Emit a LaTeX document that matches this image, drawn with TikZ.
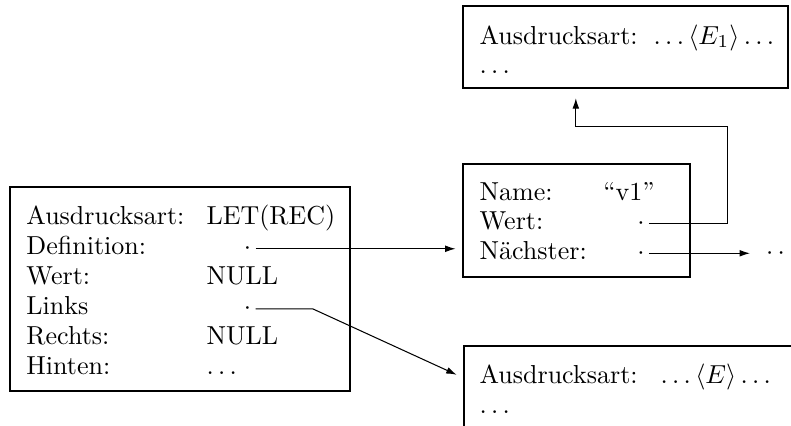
\documentclass[tikz,border=0pt]{standalone}
\usepackage{tikz}
\usetikzlibrary{arrows.meta}
\usetikzlibrary{positioning}

\tikzset{
  feld/.style={draw, thick, rectangle, inner sep=0pt},
  txt/.style={anchor=base west, inner sep=0pt},
  ptr/.style={anchor=base, inner sep=1.5pt},
  zeiger/.style={thin, -{Latex[length=4pt, width=2.6pt]}, shorten >=2.5pt},
}

\begin{document}
\begin{tikzpicture}
      \useasboundingbox (0, 0) rectangle (10.69, -5.745);
      \clip (0, 0) rectangle (10.69, -5.745);
      % die Kaestchen
      \node[feld, minimum width=4.59cm, minimum height=2.75cm] (let) at (2.43, -3.903) {};
      \node[feld, minimum width=4.39cm, minimum height=1.11cm] (eins) at (8.455, -0.635) {};
      \node[feld, minimum width=3.07cm, minimum height=1.53cm] (var) at (7.793, -2.981) {};
      \node[feld, minimum width=4.55cm, minimum height=1.27cm] (rumpf) at (8.54, -5.312) {};
      % LET-Knoten
      \node[txt] (lkind) at (0.351, -3.035) {Ausdrucksart:};
      \node[txt] (lkindw) at (2.785, -3.035) {LET(REC)};
      \node[txt] (ldef) at (0.351, -3.440) {Definition:};
      \node[ptr] (defdot) at (3.346, -3.440) {$\cdot$};
      \node[txt] (lwert) at (0.351, -3.846) {Wert:};
      \node[txt] (lwertw) at (2.785, -3.846) {NULL};
      \node[txt] (llinks) at (0.351, -4.251) {Links};
      \node[ptr] (linksdot) at (3.346, -4.251) {$\cdot$};
      \node[txt] (lrechts) at (0.351, -4.657) {Rechts:};
      \node[txt] (lrechtsw) at (2.785, -4.657) {NULL};
      \node[txt] (lhinten) at (0.351, -5.062) {Hinten:};
      \node[txt] (lhintenw) at (2.785, -5.062) {$\ldots$};
      % Variable
      \node[txt] (vname) at (6.475, -2.703) {Name:};
      \node[txt] (vnamew) at (8.147, -2.703) {``v1''};
      \node[txt] (vwert) at (6.475, -3.102) {Wert:};
      \node[ptr] (wertdot) at (8.661, -3.102) {$\cdot$};
      \node[txt] (vnext) at (6.475, -3.501) {N\"achster:};
      \node[ptr] (naechdot) at (8.661, -3.501) {$\cdot$};
      \node[txt] (weiter) at (10.346, -3.501) {$\cdots$};
      % E1 oben
      \node[txt] (ekind) at (6.475, -0.595) {Ausdrucksart:};
      \node[txt] (ekindw) at (8.827, -0.595) {$\ldots\langle E_1\rangle\ldots$};
      \node[txt] (erest) at (6.475, -0.987) {$\ldots$};
      % E unten
      \node[txt] (rkind) at (6.475, -5.177) {Ausdrucksart:};
      \node[txt] (rkindw) at (8.921, -5.177) {$\ldots\langle E\rangle\ldots$};
      \node[txt] (rrest) at (6.475, -5.583) {$\ldots$};
      % Zeiger
      \coordinate (wknick) at (9.827, -1.713);
      \draw[zeiger] (defdot.east) -- (defdot.east -| var.west);
      \draw[zeiger] (linksdot.east) -- ++(0.77, 0) -- (rumpf.west |- rkind.mid west);
      \draw[zeiger, shorten >=3.5pt] (wertdot.east) -| (wknick) -| ([xshift=-0.673cm]eins.south);
      \draw[zeiger, shorten >=6pt] (naechdot.east) -- (weiter.west);
\end{tikzpicture}
\end{document}
